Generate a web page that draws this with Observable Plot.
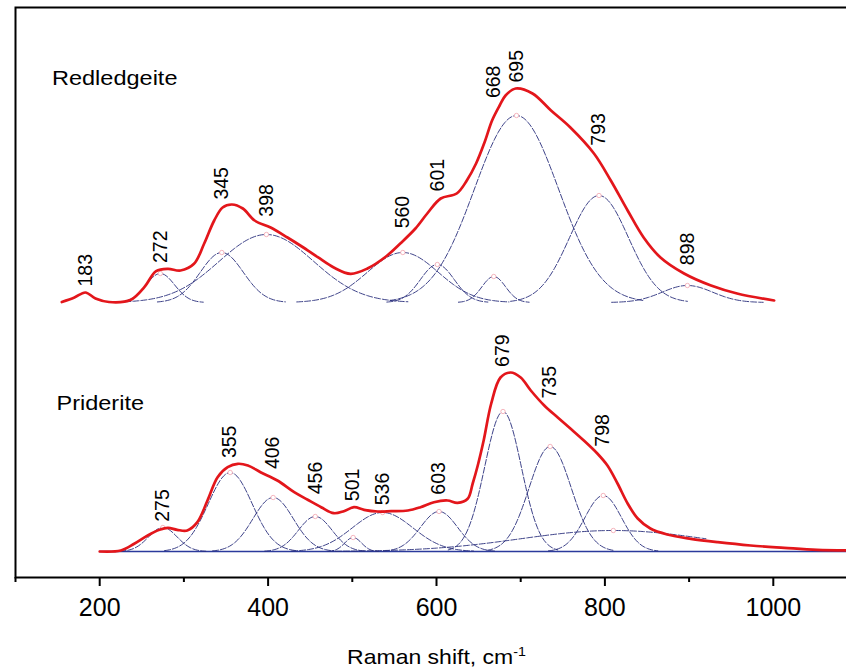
<!DOCTYPE html>
<html>
<head>
<meta charset="utf-8">
<script src="https://cdn.jsdelivr.net/npm/d3@7"></script>
<script src="https://cdn.jsdelivr.net/npm/@observablehq/plot@0.6"></script>
<style>
  html, body { margin: 0; padding: 0; background: #fff; overflow: hidden; }
  #chart svg { display: block; }
</style>
</head>
<body>
<div id="chart"></div>
<script>
// Raman spectra of redledgeite and priderite with their fitted Gaussian bands.

// Measured spectra: Raman shift (cm-1) and intensity (a.u., above each trace's own baseline)
const redledgeiteShift = [155, 170, 183, 195, 211, 237, 253, 267, 281, 296, 312, 324, 336, 346, 357, 370, 384, 403, 423, 440, 459, 478, 498, 518, 540, 557, 575, 589, 605, 624, 636, 647, 657, 666, 675, 682, 694, 714, 736, 759, 787, 807, 827, 846, 866, 894, 926, 957, 1001];
const redledgeiteIntensity = [0.5, 5, 10, 4, 0.5, 2.7, 15.3, 31.3, 33.7, 32, 38.7, 58.7, 82, 95, 98, 94, 82, 75, 65, 56, 45.3, 35, 28.7, 34, 46, 59, 74, 89, 104, 109, 122, 139, 160, 182, 197, 207, 214, 209, 192, 175, 149, 122, 92, 65, 45, 29, 17, 9, 2];

const prideriteShift = [200, 225, 241, 257, 271, 281, 292, 304, 316, 328, 340, 352, 364, 376, 391, 411, 431, 447, 463, 478, 490, 502, 514, 530, 546, 566, 581, 597, 613, 625, 637, 643, 649, 656, 665, 676, 688, 700, 712, 728, 744, 759, 775, 791, 803, 815, 827, 839, 854, 874, 902, 934, 973, 1013, 1052, 1100];
const prideriteIntensity = [0, 1, 7.7, 16, 21.7, 23.7, 21.7, 21, 29.3, 51, 74.3, 84.3, 87.7, 86, 79.3, 71, 59.3, 51.7, 44.3, 38.3, 40.3, 44.3, 41.7, 40, 40.3, 41, 44.3, 49.3, 51, 48.7, 52.7, 68, 86, 111, 148, 174, 179, 174, 161, 146, 134, 123, 111, 98, 86, 68, 48, 33, 23, 17, 12.7, 9.3, 6, 3.7, 1.7, 1];

// Fitted bands: centre (cm-1), height (a.u.), Gaussian sigma (cm-1)
const redledgeiteBandCentre = [272, 345, 398, 560, 601, 668, 695, 793, 898];
const redledgeiteBandHeight = [29, 50, 68, 50, 38, 26, 187, 107, 17];
const redledgeiteBandSigma  = [17, 25.5, 56, 42, 20, 14, 50, 35, 30];

const prideriteBandCentre = [275, 355, 406, 456, 501, 536, 603, 679, 735, 798];
const prideriteBandHeight = [24, 79, 54, 35, 14, 39, 40, 140, 105, 56];
const prideriteBandSigma  = [17, 26, 24, 20, 10, 36, 22, 21.7, 25, 21.7];

// Broad background band under the priderite spectrum, with the range it was fitted over
const prideriteBroadBand = {centre: 810, height: 21, sigma: 110, from: 480, to: 920};

// Labelled peak positions (cm-1)
const redledgeitePeaks = [183, 272, 345, 398, 560, 601, 668, 695, 793, 898];
const prideritePeaks   = [275, 355, 406, 456, 501, 536, 603, 679, 735, 798];

// Axis ticks and text
const xTicks = [200, 400, 600, 800, 1000];
const xMinorTicks = [100, 300, 500, 700, 900, 1100];
const xTitle = "Raman shift, cm";
const xTitleExponent = "-1";
const traceNames = ["Redledgeite", "Priderite"];

// Vertical stacking offsets of the two traces (a.u.)
const traceOffset = {Redledgeite: 275, Priderite: 26};
const prideriteBaselineRange = [200, 1100];

// ---- derived tables ----
const spectra = [
  ...redledgeiteShift.map((x, i) => ({name: "Redledgeite", x, y: traceOffset.Redledgeite + redledgeiteIntensity[i]})),
  ...prideriteShift.map((x, i) => ({name: "Priderite", x, y: traceOffset.Priderite + prideriteIntensity[i]}))
];

function bandProfile(name, id, c, h, s, from = c - 3 * s, to = c + 3 * s) {
  const pts = [];
  for (let x = from; x <= to + 1e-9; x += 2) {
    pts.push({id, x, y: traceOffset[name] + h * Math.exp(-0.5 * ((x - c) / s) ** 2)});
  }
  return pts;
}

const bands = [];
const bandPeaks = [];
redledgeiteBandCentre.forEach((c, i) => {
  bands.push(...bandProfile("Redledgeite", "R" + i, c, redledgeiteBandHeight[i], redledgeiteBandSigma[i]));
  bandPeaks.push({x: c, y: traceOffset.Redledgeite + redledgeiteBandHeight[i]});
});
prideriteBandCentre.forEach((c, i) => {
  bands.push(...bandProfile("Priderite", "P" + i, c, prideriteBandHeight[i], prideriteBandSigma[i]));
  bandPeaks.push({x: c, y: traceOffset.Priderite + prideriteBandHeight[i]});
});
{
  const b = prideriteBroadBand;
  bands.push(...bandProfile("Priderite", "Pbroad", b.centre, b.height, b.sigma, b.from, b.to));
  bandPeaks.push({x: b.centre, y: traceOffset.Priderite + b.height});
}

// Peak labels sit just above the highest point of the trace near each peak
function valueAt(xs, ys, x) {
  if (x <= xs[0]) return ys[0];
  if (x >= xs[xs.length - 1]) return ys[ys.length - 1];
  const i = d3.bisectRight(xs, x);
  const t = (x - xs[i - 1]) / (xs[i] - xs[i - 1]);
  return ys[i - 1] + t * (ys[i] - ys[i - 1]);
}
function labelLevel(xs, ys, x) {
  let m = -Infinity;
  for (let t = x - 8; t <= x + 8; t += 1) m = Math.max(m, valueAt(xs, ys, t));
  return m;
}
const peakLabels = [
  ...redledgeitePeaks.map(p => ({x: p, y: traceOffset.Redledgeite + labelLevel(redledgeiteShift, redledgeiteIntensity, p), text: String(p)})),
  ...prideritePeaks.map(p => ({x: p, y: traceOffset.Priderite + labelLevel(prideriteShift, prideriteIntensity, p), text: String(p)}))
];

const sans = "'Liberation Sans', Arial, Helvetica, sans-serif";

const chart = Plot.plot({
  width: 846,
  height: 672,
  marginLeft: 15,
  marginRight: -11,
  marginTop: 7,
  marginBottom: 95,
  style: {fontFamily: sans, background: "#fff", color: "#000"},
  x: {domain: [100, 1100], label: null},
  y: {domain: [0, 570], axis: null},
  marks: [
    Plot.ruleY([traceOffset.Priderite], {x1: prideriteBaselineRange[0], x2: prideriteBaselineRange[1], stroke: "#2b3a9c", strokeWidth: 1.3}),
    Plot.line(bands, {x: "x", y: "y", z: "id", stroke: "#272d7a", strokeWidth: 0.9, strokeDasharray: "6,2"}),
    Plot.dot(bandPeaks, {x: "x", y: "y", r: 2.2, stroke: "#f2a3ad", fill: "white", strokeWidth: 0.8}),
    Plot.line(spectra, {x: "x", y: "y", z: "name", stroke: "#e3161b", strokeWidth: 2.7, curve: "catmull-rom"}),
    Plot.text(peakLabels, {x: "x", y: "y", text: "text", rotate: -90, textAnchor: "start", dy: -6, fontSize: 19.5, fill: "#000"}),
    Plot.text([traceNames[0]], {frameAnchor: "top-left", dx: 36.5, dy: 62.3, textAnchor: "start", fontSize: 21, fill: "#000"}),
    Plot.text([traceNames[1]], {frameAnchor: "top-left", dx: 41, dy: 388, textAnchor: "start", fontSize: 21, fill: "#000"}),
    Plot.frame({stroke: "#000", strokeWidth: 2}),
    Plot.axisX({ticks: xTicks, tickSize: 9, tickPadding: 11.5, fontSize: 25, strokeWidth: 2, tickFormat: d => String(d), label: null}),
    Plot.axisX({ticks: xMinorTicks, tickSize: 5, tickFormat: () => "", strokeWidth: 2, label: null}),
    Plot.text([xTitle], {frameAnchor: "bottom", dy: 86, fontSize: 20, fill: "#000"})
  ]
});

// Slightly widen the horizontal annotation text
function widen(t, sx) {
  let tr = t.getAttribute("transform");
  if (!tr) {
    const x = +t.getAttribute("x") || 0, y = +t.getAttribute("y") || 0;
    t.removeAttribute("x");
    t.removeAttribute("y");
    tr = `translate(${x},${y})`;
  }
  t.setAttribute("transform", `${tr} scale(${sx},1)`);
}
chart.querySelectorAll("text").forEach(t => {
  const s = t.textContent;
  if (traceNames.includes(s)) widen(t, 1.12);
  if (s === xTitle) {
    widen(t, 1.15);
    // superscript unit exponent
    const sup = document.createElementNS("http://www.w3.org/2000/svg", "tspan");
    sup.setAttribute("dy", "-0.6em");
    sup.setAttribute("font-size", "0.62em");
    sup.textContent = xTitleExponent;
    t.appendChild(sup);
  }
});

document.getElementById("chart").appendChild(chart);
</script>
</body>
</html>
